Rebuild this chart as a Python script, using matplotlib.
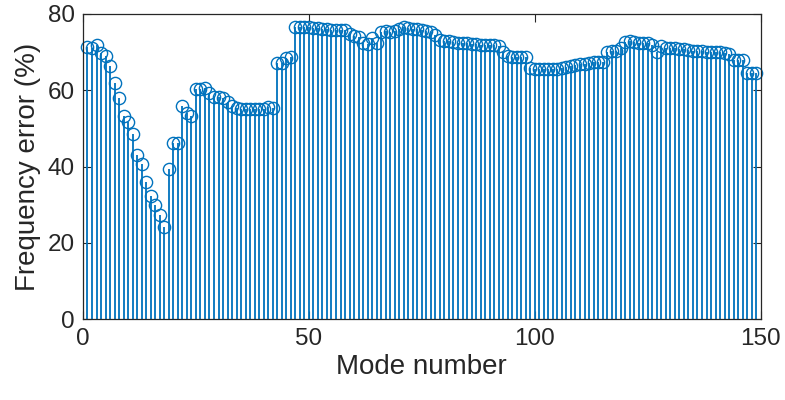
import numpy as np
import matplotlib.pyplot as plt

plt.rcParams['font.family'] = ['Liberation Sans', 'DejaVu Sans']

# frequency error per mode (%)
err_1_46 = [71.3, 71.2, 71.9, 69.7, 69.1, 66.4, 61.8, 58.1, 53.4, 51.6,
            48.5, 43.1, 40.7, 36.1, 32.4, 30.0, 27.3, 24.3, 39.4, 46.3,
            46.2, 55.9, 54.1, 53.3, 60.3, 60.3, 60.5, 59.2, 58.3, 58.3,
            58.0, 57.0, 55.9, 55.3, 55.0, 55.0, 55.0, 55.0, 55.0, 55.0,
            55.6, 55.5, 67.1, 67.2, 68.4, 68.7]
err_47_98 = [76.5, 76.5, 76.5, 76.5, 76.4, 76.3, 76.2, 76.0, 75.9, 75.8,
             75.8, 75.7, 74.8, 74.3, 74.0, 72.3, 72.2, 73.8, 72.3, 75.3,
             75.5, 75.4, 75.6, 76.0, 76.5, 76.3, 76.0, 76.2, 75.8, 75.6,
             75.2, 74.6, 73.3, 73.0, 72.8, 72.6, 72.5, 72.4, 72.3, 72.2,
             72.1, 72.0, 72.0, 72.0, 71.8, 71.7, 70.0, 69.0, 68.8, 68.8,
             68.8, 68.8]
err_99_149 = [65.8, 65.5, 65.5, 65.5, 65.5, 65.5, 65.6, 65.8, 66.0, 66.3,
              66.6, 66.8, 66.9, 67.2, 67.4, 67.5, 67.5, 70.0, 70.4, 70.2,
              71.0, 72.6, 72.8, 72.6, 72.5, 72.4, 72.3, 71.8, 70.0, 71.5,
              71.2, 71.0, 71.0, 70.9, 70.8, 70.6, 70.4, 70.3, 70.2, 70.1,
              70.0, 70.0, 70.0, 69.8, 69.5, 68.0, 68.0, 68.0, 64.6, 64.5,
              64.5]

errors = err_1_46 + err_47_98 + err_99_149
modes = np.arange(1, len(errors) + 1)

blue = '#0072BD'
axcol = '#262626'

fig = plt.figure(figsize=(7.85, 4.0), dpi=100)
ax = fig.add_axes([0.1057, 0.2017, 0.8634, 0.7633])

markers, stems, base = ax.stem(modes, errors, basefmt=' ')
plt.setp(stems, color=blue, linewidth=1.3)
plt.setp(markers, color=blue, marker='o', markersize=8.8,
         markerfacecolor='none', markeredgewidth=1.0, clip_on=False)

ax.set_xlim(0, 150)
ax.set_ylim(0, 80)
ax.set_xticks([0, 50, 100, 150])
ax.set_yticks([0, 20, 40, 60, 80])

ax.tick_params(direction='in', length=5.5, width=0.8, colors=axcol,
               labelsize=17.5, top=True, right=True, pad=6)
for sp in ax.spines.values():
    sp.set_color(axcol)
    sp.set_linewidth(0.9)

ax.set_xlabel('Mode number', fontsize=20, color=axcol, labelpad=3)
ax.set_ylabel('Frequency error (%)', fontsize=20, color=axcol, labelpad=5)

fig.savefig('out.png', dpi=100)
